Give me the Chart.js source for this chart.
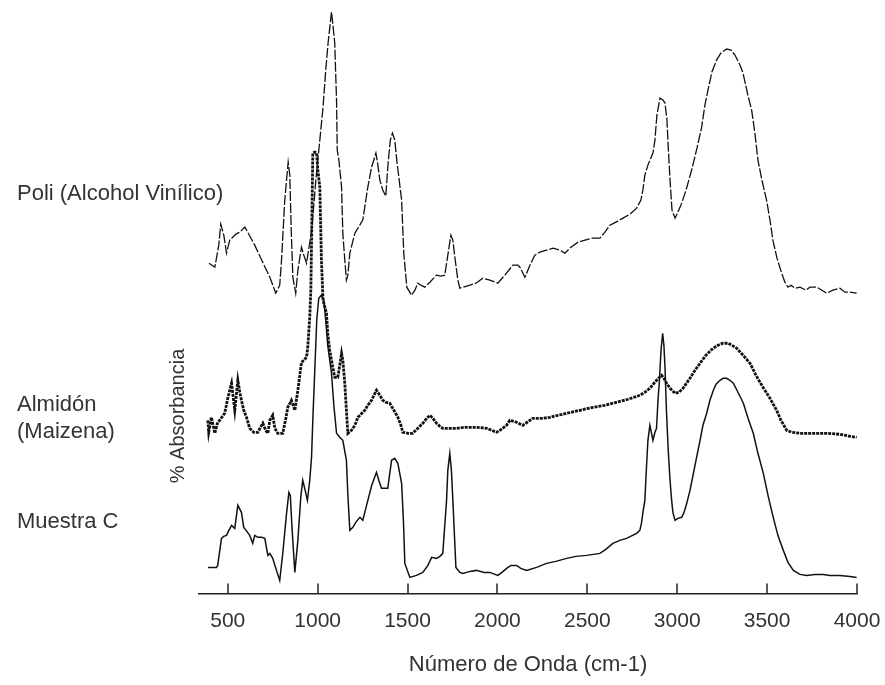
<!DOCTYPE html>
<html><head><meta charset="utf-8">
<script src="https://cdn.jsdelivr.net/npm/chart.js@4/dist/chart.umd.min.js"></script>
<style>html,body{margin:0;padding:0;background:#fff}</style>
</head><body>
<canvas id="c" width="885" height="685"></canvas>
<script>
// ---- data (wavenumber cm-1, relative absorbance with vertical offset) ----
const xTickValues = [500, 1000, 1500, 2000, 2500, 3000, 3500, 4000];
const xAxisTitle = 'Número de Onda (cm-1)';
const yAxisTitle = '% Absorbancia';
const seriesNames = ['Poli (Alcohol Vinílico)', 'Almidón (Maizena)', 'Muestra C'];
const seriesLabelLines = [['Poli (Alcohol Vinílico)'], ['Almidón', '(Maizena)'], ['Muestra C']];

const pvaPoints = [[396,330],[428,326],[450,348],[461,369],[478,358],[493,340],[511,353],[545,359],[567,361],[595,366],[611,361],[650,348],[689,333],[734,316],[767,300],[789,308],[799,333],[817,393],[836,431],[845,418],[853,363],[862,316],[878,300],[890,323],[910,346],[923,338],[938,330],[967,363],[990,413],[1012,453],[1030,486],[1045,523],[1058,550],[1077,581],[1085,568],[1095,550],[1105,493],[1109,443],[1118,433],[1133,406],[1140,360],[1151,333],[1160,313],[1168,318],[1179,340],[1207,360],[1251,373],[1279,406],[1300,426],[1324,440],[1335,428],[1346,413],[1362,403],[1379,397],[1390,426],[1404,453],[1416,460],[1429,453],[1440,433],[1467,393],[1479,340],[1496,306],[1522,298],[1541,303],[1557,310],[1574,308],[1596,306],[1624,311],[1661,318],[1685,317],[1707,318],[1724,338],[1741,358],[1752,353],[1763,336],[1780,313],[1791,305],[1847,308],[1880,310],[1919,315],[1958,313],[2002,310],[2041,318],[2086,328],[2114,328],[2125,326],[2153,316],[2181,328],[2208,338],[2236,341],[2273,343],[2309,345],[2347,343],[2375,340],[2409,346],[2448,351],[2487,353],[2531,355],[2570,355],[2598,361],[2626,368],[2659,371],[2698,375],[2737,379],[2774,385],[2798,393],[2809,403],[2820,418],[2837,428],[2865,440],[2876,453],[2887,478],[2904,495],[2921,493],[2932,490],[2943,473],[2948,453],[2960,413],[2971,383],[2988,375],[3004,381],[3025,390],[3049,403],[3080,423],[3110,445],[3136,466],[3154,488],[3171,503],[3193,521],[3219,533],[3243,540],[3275,544],[3299,543],[3321,538],[3349,528],[3366,520],[3393,498],[3414,483],[3432,460],[3449,433],[3471,413],[3497,393],[3516,373],[3532,353],[3555,335],[3581,320],[3599,311],[3616,306],[3633,308],[3655,305],[3683,306],[3716,303],[3738,306],[3776,306],[3805,303],[3831,300],[3866,303],[3905,305],[3933,301],[3961,301],[3998,300]];

const starchPoints = [[389,173],[394,161],[409,176],[428,160],[444,171],[455,173],[483,180],[500,195],[511,203],[521,210],[539,183],[556,213],[567,201],[576,193],[589,183],[604,176],[622,165],[645,161],[667,161],[695,170],[711,163],[723,160],[734,173],[750,178],[762,165],[778,160],[806,160],[823,175],[834,186],[854,193],[873,183],[890,203],[910,231],[923,233],[938,236],[945,246],[956,276],[962,303],[967,363],[973,440],[984,441],[994,440],[1001,423],[1012,406],[1021,333],[1030,293],[1049,280],[1056,260],[1067,243],[1084,226],[1095,216],[1112,216],[1123,228],[1133,240],[1140,233],[1151,210],[1160,183],[1168,160],[1188,163],[1207,168],[1224,176],[1246,180],[1262,183],[1279,188],[1300,193],[1313,198],[1327,203],[1346,198],[1362,193],[1379,191],[1401,190],[1424,183],[1446,176],[1463,168],[1474,161],[1502,160],[1529,160],[1557,165],[1585,170],[1607,175],[1624,178],[1641,175],[1661,170],[1680,167],[1696,165],[1735,165],[1773,165],[1819,166],[1884,166],[1940,165],[1969,163],[1995,161],[2014,163],[2051,168],[2069,173],[2106,171],[2141,168],[2197,175],[2253,175],[2292,176],[2385,180],[2459,183],[2531,186],[2598,188],[2663,191],[2726,194],[2793,198],[2820,201],[2848,205],[2885,213],[2913,218],[2926,215],[2941,210],[2960,205],[2988,200],[3010,201],[3032,205],[3071,215],[3099,223],[3127,230],[3160,238],[3199,245],[3227,248],[3254,250],[3282,250],[3304,248],[3331,245],[3366,238],[3405,230],[3438,218],[3477,206],[3516,195],[3553,183],[3577,173],[3609,163],[3638,161],[3683,160],[3738,160],[3831,160],[3905,159],[3961,157],[3998,156]];

const samplePoints = [[390,26],[437,26],[444,28],[465,55],[477,57],[493,58],[506,63],[521,68],[539,65],[556,88],[576,81],[589,66],[606,62],[622,58],[639,50],[650,58],[667,56],[688,56],[706,55],[723,38],[734,40],[750,35],[771,23],[789,13],[806,40],[827,80],[840,101],[848,98],[856,70],[873,21],[890,53],[906,96],[917,113],[928,105],[943,93],[956,113],[966,136],[973,173],[984,223],[995,273],[1006,295],[1021,298],[1034,293],[1045,273],[1056,248],[1077,220],[1090,188],[1105,160],[1123,156],[1140,153],[1160,133],[1168,98],[1179,63],[1196,66],[1212,71],[1235,76],[1251,73],[1279,93],[1301,108],[1327,121],[1340,113],[1355,105],[1390,105],[1411,133],[1429,135],[1446,130],[1467,110],[1477,73],[1485,30],[1513,16],[1550,18],[1585,21],[1613,28],[1634,36],[1661,35],[1680,37],[1696,40],[1717,93],[1724,123],[1735,140],[1744,123],[1752,93],[1769,26],[1791,21],[1808,20],[1847,22],[1884,23],[1925,21],[1958,21],[2002,18],[2025,21],[2051,25],[2075,28],[2106,28],[2130,25],[2162,23],[2218,26],[2273,30],[2325,32],[2385,35],[2436,37],[2496,38],[2570,40],[2603,44],[2642,50],[2681,53],[2718,55],[2774,60],[2792,63],[2801,70],[2811,83],[2820,93],[2829,126],[2837,153],[2848,168],[2856,161],[2865,153],[2876,161],[2885,165],[2893,193],[2900,210],[2910,243],[2919,260],[2926,248],[2932,226],[2940,183],[2950,143],[2960,113],[2969,93],[2976,81],[2988,73],[3004,75],[3025,76],[3038,81],[3053,90],[3071,103],[3090,120],[3110,138],[3127,153],[3143,168],[3164,180],[3182,193],[3201,203],[3216,209],[3238,213],[3255,215],[3275,215],[3293,213],[3312,210],[3338,201],[3368,190],[3394,175],[3423,160],[3449,140],[3479,120],[3505,98],[3534,76],[3560,58],[3590,43],[3616,31],[3646,23],[3683,19],[3720,18],[3766,19],[3812,19],[3849,18],[3905,18],[3961,17],[3998,16]];

// ---- chart ----
const FONT = '"Liberation Sans", Arial, Helvetica, sans-serif';
const toXY = pts => pts.map(p => ({x: p[0], y: p[1]}));

const decor = {
  id: 'decor',
  afterDraw(chart) {
    const ctx = chart.ctx, xs = chart.scales.x;
    ctx.save();
    ctx.strokeStyle = '#222';
    ctx.lineWidth = 1.5;
    xs.ticks.forEach(t => {
      const px = Math.round(xs.getPixelForValue(t.value));
      ctx.beginPath();
      ctx.moveTo(px, xs.top);
      ctx.lineTo(px, xs.top - 10);
      ctx.stroke();
    });
    ctx.fillStyle = '#333';
    ctx.font = '22px ' + FONT;
    ctx.textBaseline = 'middle';
    ctx.textAlign = 'left';
    const labelY = [[194], [405, 432], [522]];
    seriesLabelLines.forEach((lines, i) => {
      lines.forEach((ln, j) => ctx.fillText(ln, 17, labelY[i][j]));
    });
    ctx.font = '20px ' + FONT;
    ctx.translate(178, 416);
    ctx.rotate(-Math.PI / 2);
    ctx.textAlign = 'center';
    ctx.fillText(yAxisTitle, 0, 0);
    ctx.restore();
  }
};

new Chart(document.getElementById('c'), {
  type: 'line',
  data: {
    datasets: [
      {label: seriesNames[0], data: toXY(pvaPoints), borderColor: '#111', borderWidth: 1.3, borderDash: [10, 2]},
      {label: seriesNames[1], data: toXY(starchPoints), borderColor: '#111', borderWidth: 2.8, borderDash: [3, 1]},
      {label: seriesNames[2], data: toXY(samplePoints), borderColor: '#111', borderWidth: 1.5}
    ]
  },
  options: {
    responsive: false,
    animation: false,
    devicePixelRatio: 1,
    layout: {padding: {left: 199, right: 28, top: 5, bottom: 3}},
    plugins: {legend: {display: false}, tooltip: {enabled: false}},
    elements: {point: {radius: 0}, line: {tension: 0, fill: false}},
    scales: {
      x: {
        type: 'linear', min: 340, max: 4000,
        afterBuildTicks: s => { s.ticks = xTickValues.map(v => ({value: v})); },
        afterFit: s => { s.paddingLeft = 0; s.paddingRight = 0; },
        grid: {display: false, drawTicks: false},
        border: {display: true, color: '#222', width: 1.5},
        ticks: {color: '#333', font: {size: 21, family: FONT}, padding: 15, maxRotation: 0, autoSkip: false, callback: v => String(v)},
        title: {display: true, text: xAxisTitle, color: '#333', font: {size: 22, family: FONT}, padding: {top: 3, bottom: 4}}
      },
      y: {display: false, min: 0, max: 588}
    }
  },
  plugins: [decor]
});
</script>
</body></html>
